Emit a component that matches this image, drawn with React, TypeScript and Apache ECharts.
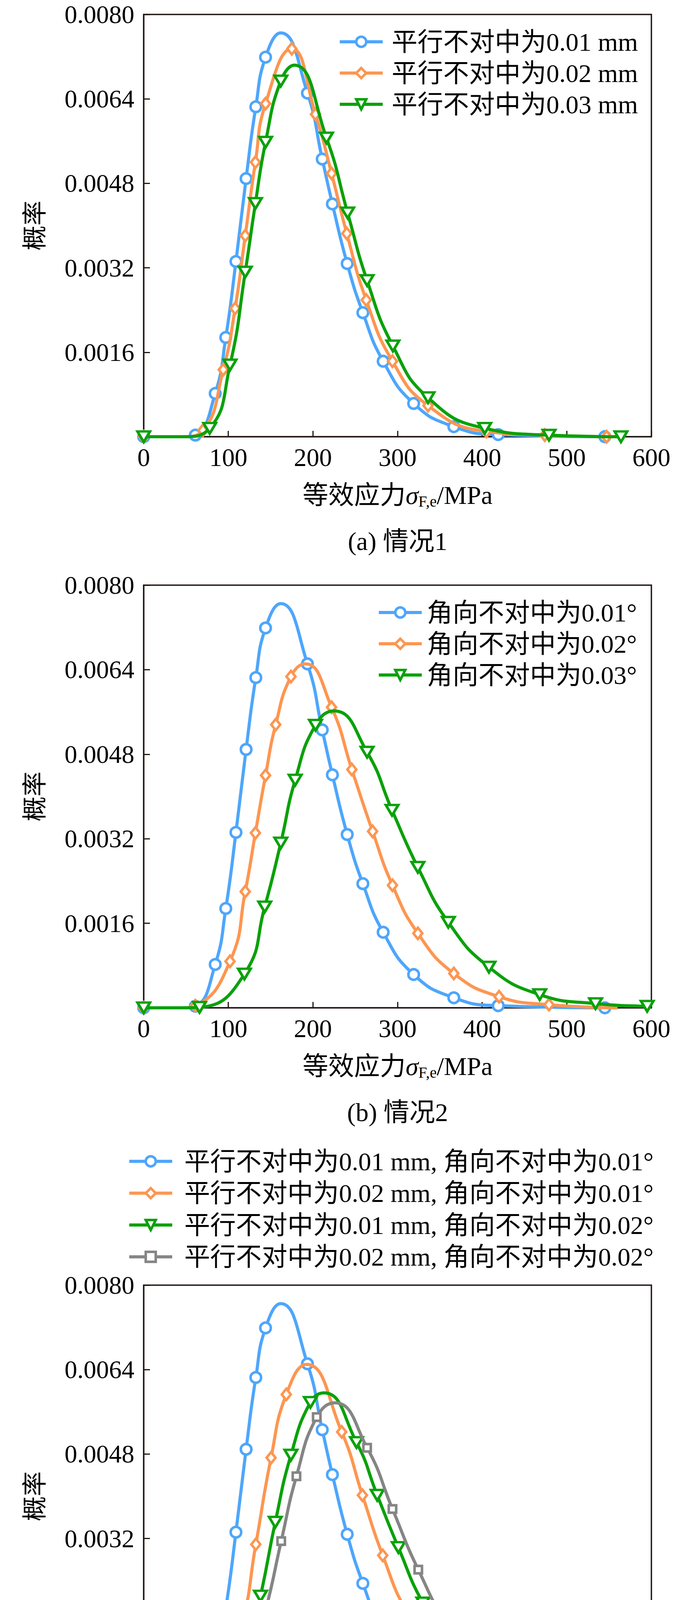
import React, { useEffect, useRef } from "react";
import * as echarts from "echarts";

// ---------- data (x in MPa, y probability, third value: 1 = marker drawn, 0 = curve point only) ----------
type Pt = [number, number, number];

const xMin = 0;
const xMax = 600;
const xStep = 100;
const yMin = 0;
const yMax = 0.008;
const yStep = 0.0016;

// shared curve: parallel 0.01 mm / angular 0.01°
const base001: Pt[] = [
  [0, 0, 1], [45, 0, 0], [61, 0.00003, 1], [84.5, 0.00082, 1], [97, 0.00188, 1], [109, 0.00332, 1],
  [121, 0.00489, 1], [132.5, 0.00625, 1], [144, 0.00719, 1], [162, 0.00765, 0], [193.5, 0.00651, 1],
  [211, 0.00526, 1], [223, 0.00441, 1], [240.5, 0.00328, 1], [259, 0.00235, 1], [283, 0.00143, 1],
  [319, 0.00063, 1], [366.5, 0.00019, 1], [419, 0.00004, 1], [545, 0, 1],
];

// (a) 情况1
const par002: Pt[] = [
  [0, 0, 1], [45, 0, 0], [70, 0.00012, 1], [94, 0.00127, 1], [108, 0.00243, 1], [120, 0.00381, 1],
  [132, 0.0052, 1], [144, 0.00631, 1], [175, 0.00735, 1], [203, 0.00611, 1], [222, 0.00499, 1],
  [240, 0.00385, 1], [263, 0.00259, 1], [294, 0.00143, 1], [336, 0.00059, 1], [405, 0.0001, 1],
  [474, 0.00003, 1], [547, 0, 1],
];
const par003: Pt[] = [
  [0, 0, 1], [45, 0, 0], [78, 0.00016, 1], [102, 0.00136, 1], [120, 0.00312, 1], [132, 0.00442, 1],
  [144, 0.00558, 1], [162, 0.00674, 1], [178, 0.00704, 0], [216, 0.00566, 1], [241, 0.00424, 1],
  [264, 0.00296, 1], [294.5, 0.00172, 1], [336, 0.00074, 1], [403, 0.00016, 1], [479, 0.00003, 1],
  [564, 0, 1],
];

// (b) 情况2
const ang002: Pt[] = [
  [0, 0, 1], [45, 0, 0], [61, 0.00004, 1], [102, 0.00088, 1], [120, 0.0022, 1], [132, 0.00331, 1],
  [144, 0.0044, 1], [156, 0.00536, 1], [174, 0.00627, 1], [191, 0.00651, 0], [222, 0.00569, 1],
  [246, 0.00451, 1], [270.5, 0.00334, 1], [294, 0.00232, 1], [324, 0.00141, 1], [366.5, 0.00065, 1],
  [420, 0.00021, 1], [479, 0.00006, 1], [560, 0, 0],
];
const ang003: Pt[] = [
  [0, 0, 1], [45, 0, 0], [66, 0.00001, 1], [119, 0.00064, 1], [143, 0.00191, 1], [162, 0.00312, 1],
  [179, 0.00431, 1], [203, 0.00535, 1], [225, 0.00562, 0], [264, 0.00484, 1], [293.5, 0.00374, 1],
  [324, 0.00266, 1], [360, 0.00162, 1], [408, 0.00077, 1], [468, 0.00025, 1], [534, 0.00008, 1],
  [595, 0.00003, 1],
];

// (c) 情况3
const combo2_1: Pt[] = [
  [0, 0, 1], [45, 0, 0], [78.5, 0.00012, 1], [114.5, 0.00152, 1], [132.5, 0.00309, 1], [150.5, 0.00473, 1],
  [168.5, 0.00593, 1], [192.5, 0.0065, 0], [234, 0.00522, 1], [258.5, 0.00402, 1], [282.5, 0.00288, 1],
  [312.5, 0.00177, 1], [360.5, 0.00071, 1], [426.5, 0.00014, 1], [501, 0.00002, 1], [582, 0, 1],
];
const combo1_2: Pt[] = [
  [0, 0, 1], [45, 0, 0], [80, 0.00001, 1], [120, 0.00096, 1], [138, 0.00211, 1], [155.5, 0.00351, 1],
  [174, 0.00478, 1], [197, 0.00578, 1], [213, 0.00596, 0], [251.5, 0.00502, 1], [276, 0.00402, 1],
  [301, 0.00303, 1], [330, 0.00198, 1], [371, 0.00098, 1], [426, 0.00037, 1], [495, 0.00012, 1],
  [566, 0, 1],
];
const combo2_2: Pt[] = [
  [0, 0, 1], [45, 0, 0], [65, 0.00001, 1], [121, 0.00059, 1], [144.5, 0.00187, 1], [162.5, 0.00315, 1],
  [180.5, 0.00438, 1], [204.5, 0.0055, 1], [226, 0.00577, 0], [264, 0.00492, 1], [294, 0.00376, 1],
  [324.5, 0.00261, 1], [360.5, 0.00155, 1], [408.5, 0.0007, 1], [469, 0.00022, 1], [534, 0.00007, 1],
  [595, 0, 1],
];

const namesA = ["平行不对中为0.01 mm", "平行不对中为0.02 mm", "平行不对中为0.03 mm"];
const namesB = ["角向不对中为0.01°", "角向不对中为0.02°", "角向不对中为0.03°"];
const namesC = [
  "平行不对中为0.01 mm, 角向不对中为0.01°",
  "平行不对中为0.02 mm, 角向不对中为0.01°",
  "平行不对中为0.01 mm, 角向不对中为0.02°",
  "平行不对中为0.02 mm, 角向不对中为0.02°",
];
const captions = ["(a) 情况1", "(b) 情况2", "(c) 情况3"];
const yName = "概率";

// ---------- styles ----------
const FONT = '"Liberation Serif", "Times New Roman", "Noto Sans CJK SC", serif';
const AXIS = "#231815";
const BLUE = "#4ea6fb";
const ORANGE = "#fd9651";
const GREEN = "#0aa10a";
const GRAY = "#858585";
const LINE_W = 8;
const MARK_W = 6.5;

type Style = { color: string; symbol: string; size: number | number[]; rotate: number };
const S_CIRCLE: Style = { color: BLUE, symbol: "circle", size: 27, rotate: 0 };
const S_DIAMOND: Style = { color: ORANGE, symbol: "diamond", size: [23, 29], rotate: 0 };
const S_TRI: Style = { color: GREEN, symbol: "triangle", size: [32, 27], rotate: 180 };
const S_SQUARE: Style = { color: GRAY, symbol: "rect", size: 19, rotate: 0 };

const panels = [
  {
    top: 37, height: 1081, caption: 1385,
    legend: { left: 866, top: 74, gap: 14, pad: 18 },
    series: [
      { name: namesA[0], data: base001, st: S_CIRCLE },
      { name: namesA[1], data: par002, st: S_DIAMOND },
      { name: namesA[2], data: par003, st: S_TRI },
    ],
  },
  {
    top: 1498, height: 1082, caption: 2847,
    legend: { left: 966, top: 1535, gap: 14, pad: 8 },
    series: [
      { name: namesB[0], data: base001, st: S_CIRCLE },
      { name: namesB[1], data: ang002, st: S_DIAMOND },
      { name: namesB[2], data: ang003, st: S_TRI },
    ],
  },
  {
    top: 3290, height: 1081, caption: 4637,
    legend: { left: 327, top: 2940, gap: 15.5, pad: 26 },
    series: [
      { name: namesC[0], data: base001, st: S_CIRCLE },
      { name: namesC[1], data: combo2_1, st: S_DIAMOND },
      { name: namesC[2], data: combo1_2, st: S_TRI },
      { name: namesC[3], data: combo2_2, st: S_SQUARE },
    ],
  },
];

const GRID_LEFT = 368;
const GRID_WIDTH = 1300;
const CAPTION_X = 1018;

function buildOption(): any {
  const grid: any[] = [];
  const xAxis: any[] = [];
  const yAxis: any[] = [];
  const legend: any[] = [];
  const series: any[] = [];
  const graphic: any[] = [];

  panels.forEach((p, i) => {
    grid.push({
      left: GRID_LEFT, top: p.top, width: GRID_WIDTH, height: p.height,
      show: true, borderColor: AXIS, borderWidth: 3.5, backgroundColor: "transparent",
    });
    xAxis.push({
      type: "value", gridIndex: i, min: xMin, max: xMax, interval: xStep,
      axisLine: { show: true, onZero: false, lineStyle: { color: AXIS, width: 3.5 } },
      axisTick: { show: true, inside: true, length: 15, lineStyle: { color: AXIS, width: 3 } },
      axisLabel: { show: true, margin: 20, fontSize: 65, fontFamily: FONT, color: "#000", showMinLabel: true, showMaxLabel: true },
      splitLine: { show: false },
      name: "{a|等效应力}{s|σ}{sub|F,e}{a|/MPa}",
      nameLocation: "middle",
      nameGap: 113,
      nameTextStyle: {
        rich: {
          a: { fontSize: 66, fontFamily: FONT, color: "#000", lineHeight: 72 },
          s: { fontSize: 66, fontFamily: FONT, fontStyle: "italic", color: "#000", lineHeight: 72 },
          sub: { fontSize: 40, fontFamily: FONT, color: "#000", lineHeight: 42, padding: [30, 0, 0, 0], verticalAlign: "bottom" },
        },
      },
    });
    yAxis.push({
      type: "value", gridIndex: i, min: yMin, max: yMax, interval: yStep,
      axisLine: { show: true, onZero: false, lineStyle: { color: AXIS, width: 3.5 } },
      axisTick: { show: true, inside: true, length: 16, lineStyle: { color: AXIS, width: 3 } },
      axisLabel: {
        show: true, margin: 24, fontSize: 65, fontFamily: FONT, color: "#000",
        formatter: (v: number) => (v === 0 ? "" : v.toFixed(4)),
      },
      splitLine: { show: false },
      name: yName,
      nameLocation: "middle",
      nameGap: 247,
      nameTextStyle: { fontSize: 64, fontFamily: FONT, color: "#000" },
    });
    legend.push({
      data: p.series.map((s) => s.name),
      orient: "vertical",
      left: p.legend.left,
      top: p.legend.top,
      padding: 0,
      itemWidth: 110,
      itemHeight: 32,
      itemGap: p.legend.gap,
      selectedMode: false,
      lineStyle: { width: LINE_W },
      itemStyle: { borderWidth: MARK_W },
      textStyle: { fontSize: 66, fontFamily: FONT, color: "#000", padding: [0, 0, 0, p.legend.pad] },
    });
    p.series.forEach((s, k) => {
      series.push({
        type: "line",
        name: s.name,
        xAxisIndex: i,
        yAxisIndex: i,
        data: s.data.map((d) => (d[2] ? [d[0], d[1]] : { value: [d[0], d[1]], symbol: "none" })),
        smooth: 0.5,
        color: s.st.color,
        symbol: s.st.symbol,
        symbolSize: s.st.size,
        symbolRotate: s.st.rotate,
        showSymbol: true,
        showAllSymbol: true,
        lineStyle: { color: s.st.color, width: LINE_W },
        itemStyle: { color: "#fff", borderColor: s.st.color, borderWidth: MARK_W },
        emphasis: { disabled: true },
        z: 2 + k,
      });
    });
    graphic.push({
      type: "text",
      x: CAPTION_X,
      y: p.caption,
      style: {
        text: captions[i], fontSize: 66, fontFamily: FONT, fill: "#000",
        align: "center", verticalAlign: "middle",
      },
    });
  });

  return {
    animation: false,
    backgroundColor: "#fff",
    grid, xAxis, yAxis, legend, series, graphic,
  };
}

export default function App() {
  const ref = useRef<HTMLDivElement>(null);
  useEffect(() => {
    document.body.style.margin = "0";
    if (!ref.current) return;
    const chart = echarts.init(ref.current, undefined, { renderer: "svg" });
    chart.setOption(buildOption());
    return () => chart.dispose();
  }, []);
  return <div ref={ref} style={{ width: 1772, height: 4681 }} />;
}
